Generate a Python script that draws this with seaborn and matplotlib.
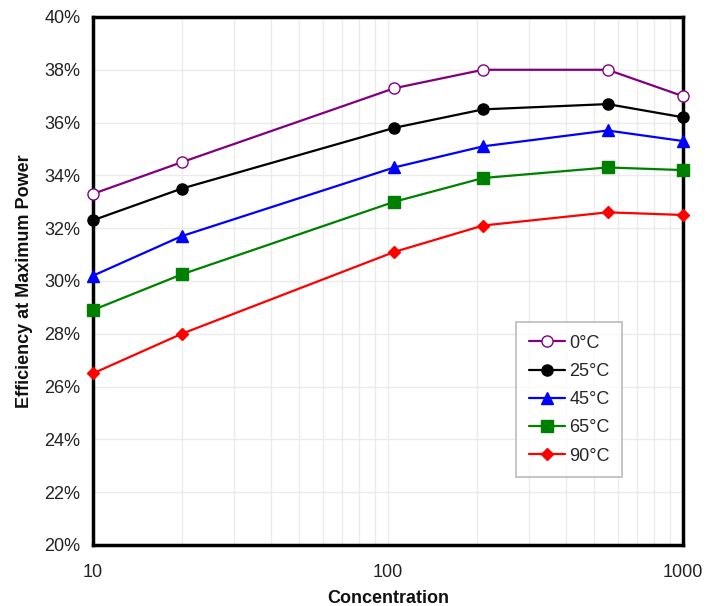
import numpy as np
import pandas as pd
import matplotlib
matplotlib.use("Agg")
import matplotlib.pyplot as plt
import matplotlib.ticker as mticker
from matplotlib.lines import Line2D
import seaborn as sns

concentration = [10, 20, 105, 210, 555, 1000]
series_names = ["0°C", "25°C", "45°C", "65°C", "90°C"]
eff_0 = [33.3, 34.5, 37.3, 38.0, 38.0, 37.0]
eff_25 = [32.3, 33.5, 35.8, 36.5, 36.7, 36.2]
eff_45 = [30.2, 31.7, 34.3, 35.1, 35.7, 35.3]
eff_65 = [28.9, 30.25, 33.0, 33.9, 34.3, 34.2]
eff_90 = [26.5, 28.0, 31.1, 32.1, 32.6, 32.5]
y_ticks = [20, 22, 24, 26, 28, 30, 32, 34, 36, 38, 40]
x_ticks = [10, 100, 1000]

all_vals = [eff_0, eff_25, eff_45, eff_65, eff_90]
rows = []
for name, vals in zip(series_names, all_vals):
    for c, v in zip(concentration, vals):
        rows.append({"Concentration": c, "Efficiency": v / 100.0, "Temp": name})
df = pd.DataFrame(rows)

sns.set_theme(style="white")
plt.rcParams["font.family"] = ["Liberation Sans", "DejaVu Sans"]

colors = {"0°C": "#800080", "25°C": "#000000", "45°C": "#0000FF",
          "65°C": "#008000", "90°C": "#FF0000"}
markers = {"0°C": "o", "25°C": "o", "45°C": "^", "65°C": "s", "90°C": "D"}
msizes = {"0°C": 8, "25°C": 8, "45°C": 9, "65°C": 8, "90°C": 6.5}

fig = plt.figure(figsize=(7.17, 6.06), dpi=100)
ax = fig.add_axes([0.1297, 0.1007, 0.8229, 0.8713])

sns.lineplot(data=df, x="Concentration", y="Efficiency", hue="Temp", style="Temp",
             palette=colors, markers=markers, dashes=False, linewidth=1.6,
             ax=ax, hue_order=series_names, style_order=series_names,
             legend=False)

for line, name in zip(ax.get_lines(), series_names):
    line.set_clip_on(False)
    line.set_markersize(msizes[name])
    line.set_markeredgewidth(1)
    line.set_zorder(5)
    if name == "0°C":
        line.set_markerfacecolor("white")
        line.set_markeredgecolor("#800080")
    else:
        line.set_markerfacecolor(colors[name])
        line.set_markeredgecolor(colors[name])

ax.set_xscale("log")
ax.set_xlim(10, 1000)
ax.set_ylim(0.20, 0.40)
ax.set_yticks([t / 100 for t in y_ticks])
ax.yaxis.set_major_formatter(mticker.FuncFormatter(lambda v, p: f"{v*100:.0f}%"))
ax.set_xticks(x_ticks)
ax.xaxis.set_major_formatter(mticker.FuncFormatter(lambda v, p: f"{v:.0f}"))
ax.xaxis.set_minor_locator(mticker.LogLocator(base=10, subs=np.arange(2, 10)))
ax.xaxis.set_minor_formatter(mticker.NullFormatter())

ax.grid(True, which="major", axis="both", color="#ebebeb", linewidth=1)
ax.grid(True, which="minor", axis="x", color="#ebebeb", linewidth=1)
ax.set_axisbelow(True)

for s in ax.spines.values():
    s.set_color("black")
    s.set_linewidth(2.5)
    s.set_zorder(4)

ax.tick_params(axis="both", which="major", direction="out", length=4, width=1,
               color="#999999", labelsize=13, labelcolor="#222222", pad=5)
ax.tick_params(axis="x", which="minor", length=0)
ax.tick_params(axis="x", which="major", pad=10)

ax.set_xlabel("Concentration", fontsize=13, fontweight="bold", labelpad=6, color="#111111")
ax.set_ylabel("Efficiency at Maximum Power", fontsize=13, fontweight="bold", labelpad=8,
              color="#111111")

handles = []
for name in series_names:
    fc = "white" if name == "0°C" else colors[name]
    handles.append(Line2D([0], [0], color=colors[name], marker=markers[name],
                          markersize=msizes[name], markerfacecolor=fc,
                          markeredgecolor=colors[name], linewidth=1.6))
leg = ax.legend(handles, series_names, loc="upper left", bbox_to_anchor=(0.717, 0.422),
                frameon=True, fancybox=False, edgecolor="#aaaaaa", fontsize=13,
                handlelength=2.0, labelspacing=0.62, borderpad=0.7, handletextpad=0.25,
                borderaxespad=0)
leg.get_frame().set_linewidth(1.2)

fig.savefig("out.png", dpi=100)
